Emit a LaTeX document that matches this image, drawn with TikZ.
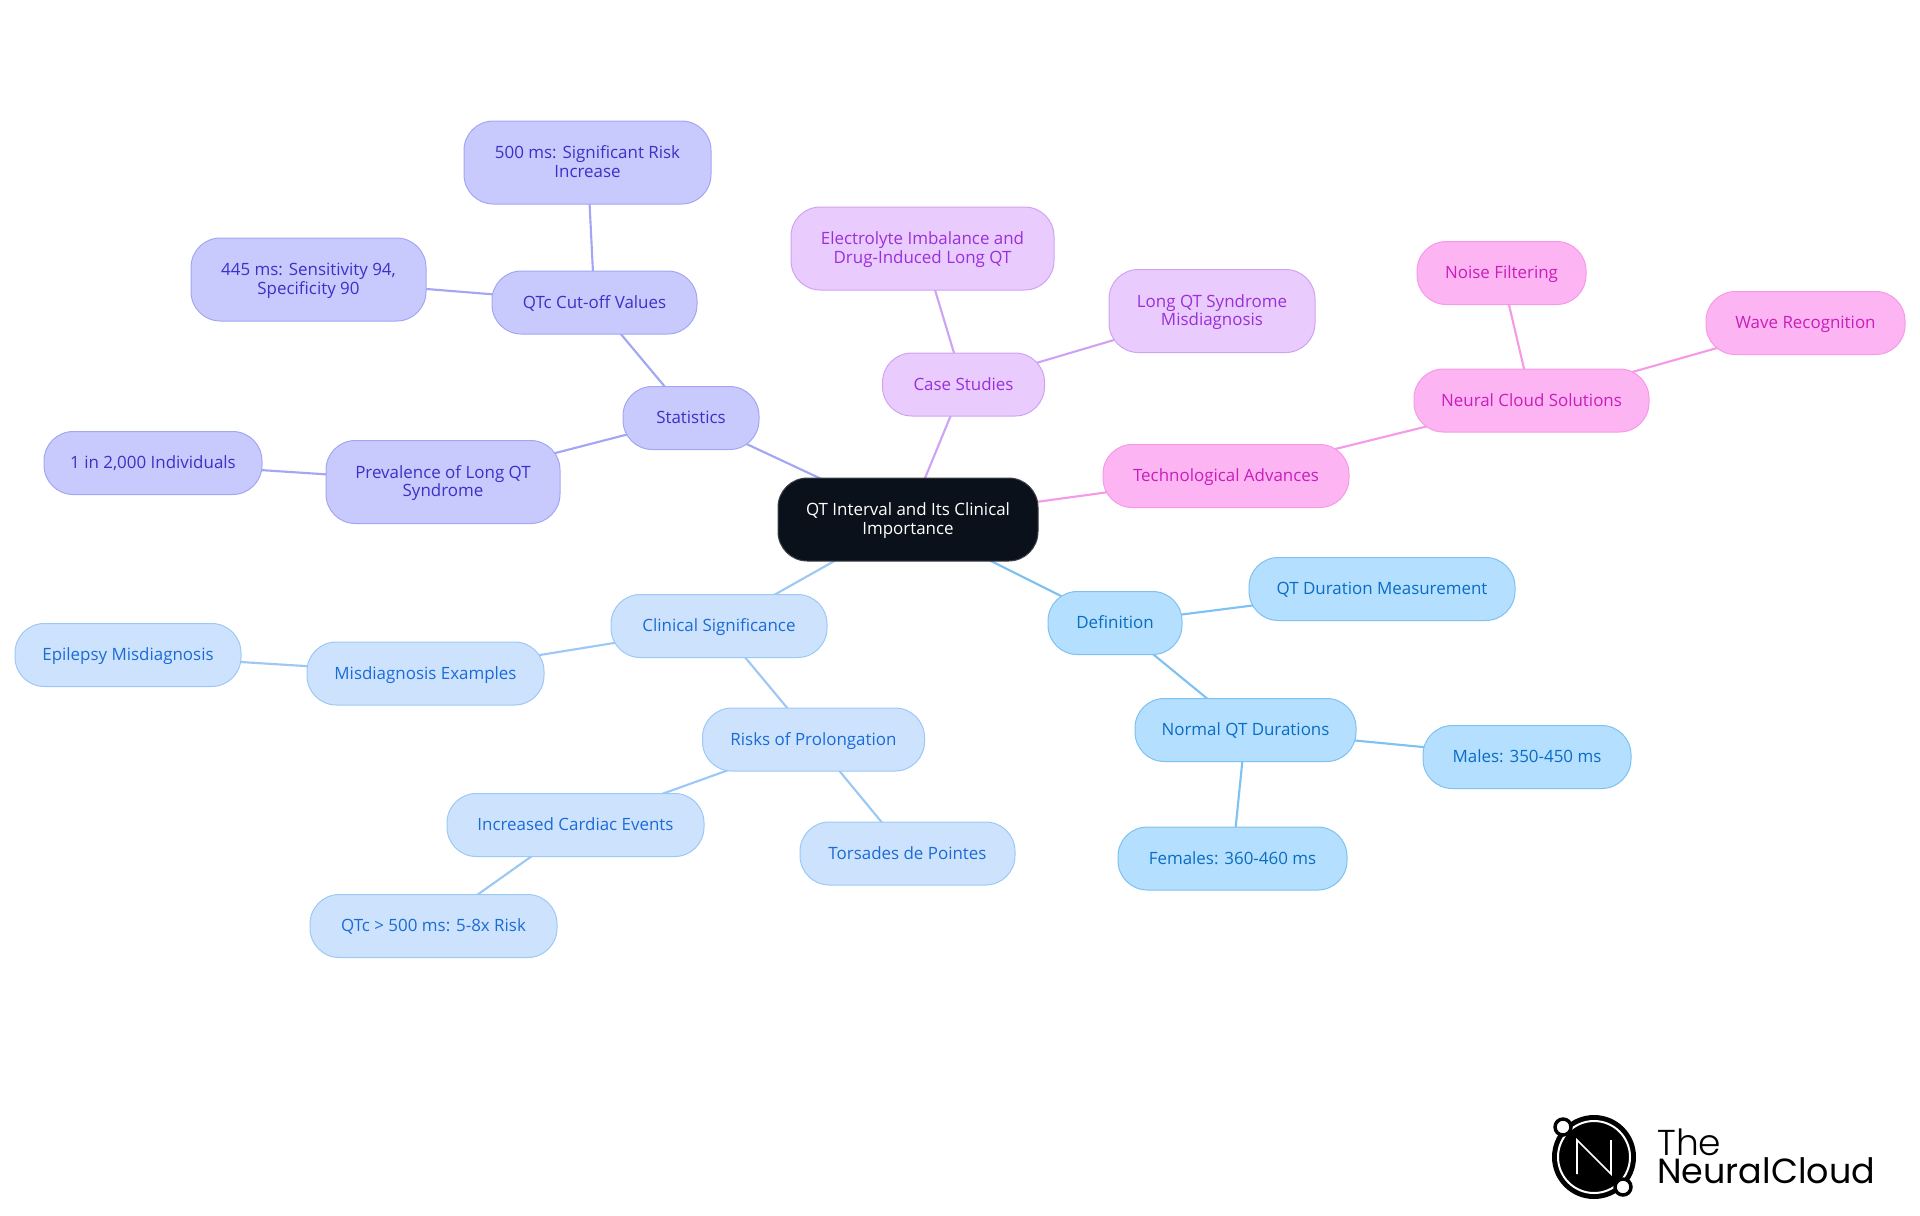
\documentclass[tikz,border=0pt]{standalone}
\usepackage{fontspec}
\setmainfont{Open Sans}
\newfontfamily\logolight{Poppins Light}
\newfontfamily\logofont{Poppins}
\usetikzlibrary{backgrounds}
\definecolor{statfill}{HTML}{C8CAFD}
\definecolor{statdraw}{HTML}{A3A6F3}
\definecolor{stattext}{HTML}{3A32C6}
\definecolor{casefill}{HTML}{E9CBFE}
\definecolor{casedraw}{HTML}{CFA3F3}
\definecolor{casetext}{HTML}{9A30D8}
\definecolor{techfill}{HTML}{FDB4F2}
\definecolor{techdraw}{HTML}{F59AE6}
\definecolor{techtext}{HTML}{C81EBB}
\definecolor{deffill}{HTML}{B4DFFE}
\definecolor{defdraw}{HTML}{7FC1F0}
\definecolor{deftext}{HTML}{0B6CC4}
\definecolor{clinfill}{HTML}{CDE3FD}
\definecolor{clindraw}{HTML}{9CC8F5}
\definecolor{clintext}{HTML}{1B6BD6}
\definecolor{rootfill}{HTML}{0B111B}
\tikzset{
  mapbox/.style={rounded corners=22pt,inner sep=0pt,align=center,line width=0.75pt,
    font=\fontsize{12.7}{13.8}\selectfont},
  onebox/.style={mapbox,minimum height=47.25pt,text height=11.8pt,text depth=3.4pt},
  twobox/.style={mapbox,minimum height=62.25pt,text height=25.2pt,text depth=3.4pt},
  statbox/.style={fill=statfill,draw=statdraw,text=stattext},
  casebox/.style={fill=casefill,draw=casedraw,text=casetext},
  techbox/.style={fill=techfill,draw=techdraw,text=techtext},
  defbox/.style={fill=deffill,draw=defdraw,text=deftext},
  clinbox/.style={fill=clinfill,draw=clindraw,text=clintext},
  rootbox/.style={fill=rootfill,draw=rootfill!80!white,text=white},
  link/.style={line width=1.6pt}
}
\begin{document}
\begin{tikzpicture}[x=0.75pt,y=0.75pt,yscale=-1,xscale=1]
\useasboundingbox (0,0) rectangle (1920,1215);

% Root
\node (root) [twobox,rootbox,minimum width=195pt] at (908,519.5) {QT Interval and Its Clinical\\Importance};

% Statistics
\node (stats) [onebox,statbox,minimum width=102pt] at (691,418) {Statistics};
\node (cutoff) [onebox,statbox,minimum width=153.75pt] at (594.5,302.5) {QTc Cut-off Values};
\node (risk500) [twobox,statbox,minimum width=185.25pt] at (587.5,162.5) {500 ms: Significant Risk\\Increase};
\node (sens445) [twobox,statbox,minimum width=176.25pt] at (308.5,279.5) {445 ms: Sensitivity 94,\\Specificity 90};
\node (preval) [twobox,statbox,minimum width=175.5pt] at (443,482) {Prevalence of Long QT\\Syndrome};
\node (oneIn) [onebox,statbox,minimum width=163.5pt] at (153,463) {1 in 2,000 Individuals};

% Case studies
\node (cases) [onebox,casebox,minimum width=121.5pt] at (963.5,384.5) {Case Studies};
\node (electro) [twobox,casebox,minimum width=197.25pt] at (922.5,248.5) {Electrolyte Imbalance and\\Drug-Induced Long QT};
\node (longqt) [twobox,casebox,minimum width=154.5pt] at (1212,311) {Long QT Syndrome\\Misdiagnosis};

% Technology
\node (tech) [onebox,techbox,minimum width=184.5pt] at (1226,476) {Technological Advances};
\node (cloud) [onebox,techbox,minimum width=176.25pt] at (1531.5,400.5) {Neural Cloud Solutions};
\node (noise) [onebox,techbox,minimum width=126.75pt] at (1501.5,273) {Noise Filtering};
\node (wave) [onebox,techbox,minimum width=149.25pt] at (1805.5,323) {Wave Recognition};

% Definition
\node (defn) [onebox,defbox,minimum width=100.5pt] at (1115,623) {Definition};
\node (duration) [onebox,defbox,minimum width=199.5pt] at (1382,589) {QT Duration Measurement};
\node (normal) [onebox,defbox,minimum width=165.75pt] at (1245.5,730) {Normal QT Durations};
\node (males) [onebox,defbox,minimum width=156pt] at (1527,757) {Males: 350-450 ms};
\node (females) [onebox,defbox,minimum width=171.75pt] at (1232.5,858.5) {Females: 360-460 ms};

% Clinical significance
\node (clinical) [onebox,clinbox,minimum width=162pt] at (719,626) {Clinical Significance};
\node (misdiag) [onebox,clinbox,minimum width=177.75pt] at (425.5,673.5) {Misdiagnosis Examples};
\node (epilepsy) [onebox,clinbox,minimum width=169.5pt] at (128,655) {Epilepsy Misdiagnosis};
\node (prolong) [onebox,clinbox,minimum width=166.5pt] at (813.5,739.5) {Risks of Prolongation};
\node (cardiac) [onebox,clinbox,minimum width=192.75pt] at (575.5,825) {Increased Cardiac Events};
\node (torsades) [onebox,clinbox,minimum width=161.25pt] at (907.5,853.5) {Torsades de Pointes};
\node (qtc500) [onebox,clinbox,minimum width=185.25pt] at (433.5,926) {QTc > 500 ms: 5-8x Risk};

% Connectors
\begin{pgfonlayer}{background}
\draw [link,statdraw] (root.center) -- (stats.center);
\draw [link,statdraw] (stats.center) -- (cutoff.center);
\draw [link,statdraw] (cutoff.center) -- (risk500.center);
\draw [link,statdraw] (cutoff.center) -- (sens445.center);
\draw [link,statdraw] (stats.center) -- (preval.center);
\draw [link,statdraw] (preval.center) -- (oneIn.center);
\draw [link,casedraw] (root.center) -- (cases.center);
\draw [link,casedraw] (cases.center) -- (electro.center);
\draw [link,casedraw] (cases.center) -- (longqt.center);
\draw [link,techdraw] (root.center) -- (tech.center);
\draw [link,techdraw] (tech.center) -- (cloud.center);
\draw [link,techdraw] (cloud.center) -- (noise.center);
\draw [link,techdraw] (cloud.center) -- (wave.center);
\draw [link,defdraw] (root.center) -- (defn.center);
\draw [link,defdraw] (defn.center) -- (duration.center);
\draw [link,defdraw] (defn.center) -- (normal.center);
\draw [link,defdraw] (normal.center) -- (males.center);
\draw [link,defdraw] (normal.center) -- (females.center);
\draw [link,clindraw] (root.center) -- (clinical.center);
\draw [link,clindraw] (clinical.center) -- (misdiag.center);
\draw [link,clindraw] (misdiag.center) -- (epilepsy.center);
\draw [link,clindraw] (clinical.center) -- (prolong.center);
\draw [link,clindraw] (prolong.center) -- (cardiac.center);
\draw [link,clindraw] (prolong.center) -- (torsades.center);
\draw [link,clindraw] (cardiac.center) -- (qtc500.center);
\end{pgfonlayer}

% Logo
\fill (1594,1157) circle (31.5pt);
\draw [white,line width=1.5pt] (1594,1157) circle (27pt);
\draw [white,line width=1.3pt,line join=miter] (1577,1174) -- (1577,1140) -- (1611,1174) -- (1611,1140);
\draw [fill=white,line width=2.6pt] (1563,1127) circle (6pt);
\draw [fill=white,line width=2.6pt] (1623,1187) circle (6pt);
\node (logoName) [anchor=west,inner sep=0pt,align=left] at (1657,1156.5) {{\logolight\fontsize{27}{24}\selectfont The}\\{\logofont\fontsize{26.2}{24}\selectfont NeuralCloud}};
\end{tikzpicture}
\end{document}
